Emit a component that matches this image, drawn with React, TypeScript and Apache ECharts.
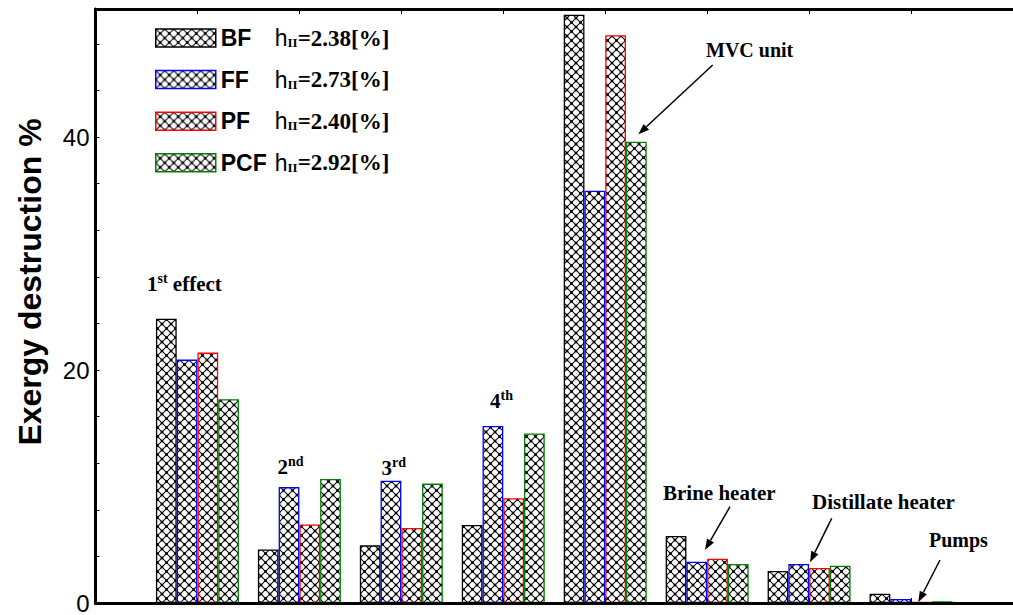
import React, { useEffect, useRef } from 'react';
import * as echarts from 'echarts';

// Components of the MVC-MED plant (one bar group each)
const categories = ['1st effect', '2nd', '3rd', '4th', 'MVC unit', 'Brine heater', 'Distillate heater', 'Pumps'];

// Feed configurations and their second-law efficiencies
const seriesNames = ['BF', 'FF', 'PF', 'PCF'];
const secondLawEff = ['2.38', '2.73', '2.40', '2.92'];

// Exergy destruction share [%] per component
const bfValues = [24.4, 4.6, 4.95, 6.7, 50.5, 5.75, 2.75, 0.8];
const ffValues = [20.9, 9.95, 10.5, 15.2, 35.4, 3.55, 3.35, 0.35];
const pfValues = [21.5, 6.75, 6.45, 9.0, 48.75, 3.8, 3.0, 0.1];
const pcfValues = [17.5, 10.65, 10.25, 14.55, 39.6, 3.35, 3.2, 0.15];

const borderColors = ['#000000', '#0000ff', '#ff0000', '#008000'];
const yTickLabels = [0, 20, 40];

const SERIF = 'Liberation Serif';
const SANS = 'Liberation Sans';

// Diagonal cross-hatch tile with dots at the crossings
function makeHatch() {
  const s = 9;
  const tile = document.createElement('canvas');
  tile.width = s;
  tile.height = s;
  const ctx = tile.getContext('2d')!;
  ctx.fillStyle = '#ffffff';
  ctx.fillRect(0, 0, s, s);
  ctx.strokeStyle = '#111111';
  ctx.lineWidth = 1.1;
  ctx.beginPath();
  ctx.moveTo(-1, -1);
  ctx.lineTo(s + 1, s + 1);
  ctx.moveTo(s + 1, -1);
  ctx.lineTo(-1, s + 1);
  ctx.stroke();
  ctx.fillStyle = '#000000';
  const h = s / 2;
  [[h, h], [0, 0], [s, 0], [0, s], [s, s]].forEach(([x, y]) => ctx.fillRect(x - 1.25, y - 1.25, 2.5, 2.5));
  return { image: tile, repeat: 'repeat' };
}

function arrow(x1: number, y1: number, x2: number, y2: number) {
  const a = Math.atan2(y2 - y1, x2 - x1);
  const L = 11;
  const w = 4;
  const bx = x2 - L * Math.cos(a);
  const by = y2 - L * Math.sin(a);
  return [
    {
      type: 'line',
      shape: { x1, y1, x2: bx, y2: by },
      style: { stroke: '#000', lineWidth: 1.5 },
      silent: true,
    },
    {
      type: 'polygon',
      shape: {
        points: [
          [x2, y2],
          [bx + w * Math.sin(a), by - w * Math.cos(a)],
          [bx - w * Math.sin(a), by + w * Math.cos(a)],
        ],
      },
      style: { fill: '#000' },
      silent: true,
    },
  ];
}

const ordRich = (size: number) => ({
  b: { fontFamily: SERIF, fontWeight: 'bold', fontSize: size, lineHeight: 26, fill: '#000' },
  sup: { fontFamily: SERIF, fontWeight: 'bold', fontSize: 14, lineHeight: 13, verticalAlign: 'top', fill: '#000' },
});

function ordinalText(x: number, y: number, num: string, sup: string, rest: string, size: number) {
  return {
    type: 'text',
    x,
    y,
    silent: true,
    style: {
      text: `{b|${num}}{sup|${sup}}` + (rest ? `{b|${rest}}` : ''),
      rich: ordRich(size),
      align: 'left',
      verticalAlign: 'top',
    },
  };
}

function plainText(x: number, y: number, text: string, size: number) {
  return {
    type: 'text',
    x,
    y,
    silent: true,
    style: {
      text,
      fontFamily: SERIF,
      fontWeight: 'bold',
      fontSize: size,
      fill: '#000',
      align: 'left',
      verticalAlign: 'middle',
    },
  };
}

export default function App() {
  const ref = useRef<HTMLDivElement>(null);

  useEffect(() => {
    document.body.style.margin = '0';
    const chart = echarts.init(ref.current!, undefined, { renderer: 'svg' });
    const hatch = makeHatch();
    const allValues = [bfValues, ffValues, pfValues, pcfValues];
    const padded = (v: number[]) => ['-', ...v, '-'];

    const tickAxis = (position: 'top' | 'bottom') => ({
      type: 'value',
      position,
      min: -0.5,
      max: 8.5,
      interval: 1,
      z: 10,
      axisLine: { show: true, onZero: false, lineStyle: { color: '#000', width: 3 } },
      axisTick: { show: true, inside: true, length: 5, lineStyle: { color: '#000', width: 1 } },
      axisLabel: { show: false },
      splitLine: { show: false },
    });

    const option: any = {
      animation: false,
      backgroundColor: '#ffffff',
      grid: { left: 95.5, right: -8.24, top: 9, bottom: 8, containLabel: false },
      xAxis: [
        {
          type: 'category',
          position: 'bottom',
          boundaryGap: false,
          data: ['', ...categories, ''],
          show: false,
          axisLine: { onZero: false },
        },
        tickAxis('bottom'),
        tickAxis('top'),
      ],
      yAxis: {
        type: 'value',
        min: 0,
        max: 51,
        interval: 4,
        z: 10,
        name: 'Exergy destruction %',
        nameLocation: 'middle',
        nameRotate: 90,
        nameGap: 50,
        nameTextStyle: {
          fontFamily: SANS,
          fontWeight: 'bold',
          fontSize: 32,
          color: '#000',
          padding: [0, 0, 0, 48],
        },
        axisLine: { show: true, onZero: false, lineStyle: { color: '#000', width: 3 } },
        axisTick: { show: true, inside: true, length: 4, lineStyle: { color: '#000', width: 1 } },
        axisLabel: {
          fontFamily: SANS,
          fontSize: 24,
          color: '#000',
          margin: 6,
          formatter: (v: number) => (yTickLabels.includes(v) ? String(v) : ''),
        },
        splitLine: { show: false },
      },
      legend: {
        orient: 'vertical',
        left: 155,
        top: 26.5,
        padding: 0,
        itemWidth: 60,
        itemHeight: 18,
        itemGap: 18.6,
        icon: 'rect',
        selectedMode: false,
        data: seriesNames.map((n, i) => ({
          name: n,
          itemStyle: { color: hatch, borderColor: borderColors[i], borderWidth: 1.5 },
        })),
        formatter: (name: string) => {
          const i = seriesNames.indexOf(name);
          return `{n|${name}}{h|h}{s|II}{v|=${secondLawEff[i]}[%]}`;
        },
        textStyle: {
          rich: {
            n: { fontFamily: SANS, fontWeight: 'bold', fontSize: 23, width: 54, lineHeight: 22, color: '#000' },
            h: { fontFamily: SANS, fontSize: 23, lineHeight: 22, color: '#000' },
            s: { fontFamily: SERIF, fontWeight: 'bold', fontSize: 13, lineHeight: 10, verticalAlign: 'bottom', color: '#000' },
            v: { fontFamily: SERIF, fontWeight: 'bold', fontSize: 23, lineHeight: 22, color: '#000' },
          },
        },
      },
      series: seriesNames.map((n, i) => ({
        name: n,
        type: 'bar',
        xAxisIndex: 0,
        yAxisIndex: 0,
        barWidth: 20.75,
        barGap: '0%',
        data: padded(allValues[i]),
        itemStyle: { color: hatch, borderColor: borderColors[i], borderWidth: 1.3 },
      })),
      graphic: [
        ordinalText(147, 271, '1', 'st', ' effect', 21),
        ordinalText(277.5, 454, '2', 'nd', '', 21),
        ordinalText(381.5, 455, '3', 'rd', '', 21),
        ordinalText(490, 388, '4', 'th', '', 21),
        plainText(706, 50, 'MVC unit', 20),
        plainText(663, 493, 'Brine heater', 21),
        plainText(812, 502, 'Distillate heater', 21),
        plainText(929, 540, 'Pumps', 20),
        ...arrow(712.7, 65, 638.3, 134.3),
        ...arrow(730, 506.7, 705, 550),
        ...arrow(831.7, 518.3, 810, 562.3),
        ...arrow(940, 560, 918.3, 602.3),
      ],
    };

    chart.setOption(option);
    return () => chart.dispose();
  }, []);

  return <div ref={ref} style={{ width: 1013, height: 615 }} />;
}
